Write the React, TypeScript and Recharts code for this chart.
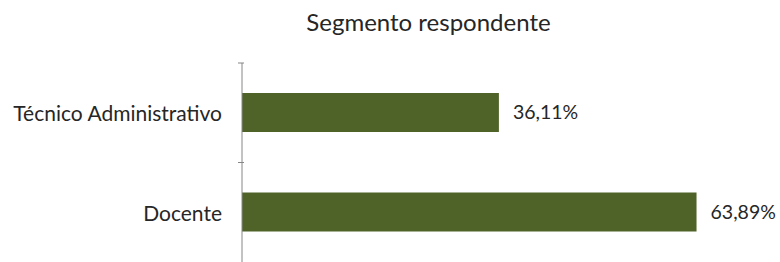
import { Bar, BarChart, LabelList, XAxis, YAxis } from "recharts";

const categories = ["Técnico Administrativo", "Docente"];
const shares = [36.11, 63.89];
const title = "Segmento respondente";

const chartData = categories.map((name, i) => ({ name, share: shares[i] }));

const FONT = "Lato, 'DejaVu Sans', sans-serif";
const TEXT = "#262626";

function formatPct(value: number) {
  return `${value.toFixed(2).replace(".", ",")}%`;
}

function CategoryTick(props: any) {
  const { x, y, payload } = props;
  const half = payload?.offset ?? 50;
  return (
    <g>
      <line x1={x + 4} x2={x + 10} y1={y - half} y2={y - half} stroke="#868686" />
      <text
        x={x - 12}
        y={y}
        textAnchor="end"
        dominantBaseline="central"
        fill={TEXT}
        fontSize={21}
        fontFamily={FONT}
      >
        {payload.value}
      </text>
    </g>
  );
}

export default function App() {
  return (
    <div style={{ position: "absolute", left: 0, top: 0, width: 780, height: 262, background: "#fff" }}>
      <div
        style={{
          position: "absolute",
          left: 0,
          width: 857,
          top: 6,
          textAlign: "center",
          fontFamily: FONT,
          fontSize: 24,
          color: TEXT,
          lineHeight: "32px",
        }}
      >
        {title}
      </div>
      <BarChart
        width={780}
        height={262}
        data={chartData}
        layout="vertical"
        margin={{ top: 63, right: 40, bottom: 0, left: 0 }}
      >
        <XAxis type="number" domain={[0, 70]} hide />
        <YAxis
          type="category"
          dataKey="name"
          width={242}
          axisLine={{ stroke: "#868686" }}
          tickLine={false}
          tick={<CategoryTick />}
        />
        <Bar dataKey="share" fill="#4F6228" barSize={39} isAnimationActive={false}>
          <LabelList
            dataKey="share"
            position="right"
            offset={14}
            formatter={(v: any) => formatPct(Number(v))}
            fill={TEXT}
            fontSize={19.5}
            fontFamily={FONT}
          />
        </Bar>
      </BarChart>
    </div>
  );
}
